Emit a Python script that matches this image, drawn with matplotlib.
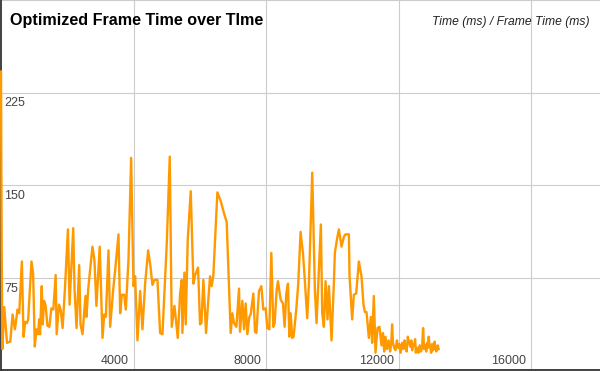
import matplotlib
matplotlib.use('Agg')
import matplotlib.pyplot as plt
from matplotlib.transforms import offset_copy

plt.rcParams['font.family'] = ['Liberation Sans', 'DejaVu Sans']

# elapsed time (ms) and frame time (ms)
time_ms = [0, 20, 40, 100, 180, 280, 350, 420, 500, 550, 630, 680, 730, 780, 820,
           920, 970, 1020, 1070, 1120, 1150, 1180, 1230, 1260, 1300, 1350, 1400, 1460,
           1520, 1580, 1650, 1680, 1750, 1800, 1860, 1930, 2020, 2070, 2180, 2220, 2280,
           2360, 2400, 2460, 2550, 2580, 2630, 2700, 2760, 2820, 2880, 2980,
           3064, 3114, 3165, 3245, 3295, 3386, 3446, 3546, 3597, 3647, 3717, 3767, 3848,
           3928, 3999, 4049, 4119, 4200, 4270, 4350, 4441, 4511, 4571, 4632, 4722, 4803,
           4873, 5004, 5094, 5154, 5235, 5275, 5335, 5406, 5456, 5476, 5536, 5576, 5637,
           5727, 5808, 5858,
           5948, 6008, 6049, 6109, 6189, 6250, 6310, 6360, 6410, 6531, 6632, 6732, 6812,
           6933, 6983, 7034, 7104, 7184, 7214, 7285, 7335, 7385, 7436, 7496, 7536, 7616,
           7667, 7707, 7787, 7858, 7918, 7988, 8039, 8099, 8159, 8219, 8260, 8320, 8360,
           8441, 8511, 8561, 8611, 8662, 8702, 8742,
           8791, 8831, 8912, 8972, 9042, 9113, 9163, 9243, 9294, 9394, 9474, 9525, 9565,
           9655, 9696, 9746, 9796, 9856, 9897, 9977, 10047, 10077, 10148, 10198, 10278,
           10349, 10399, 10500, 10520, 10600, 10650, 10721, 10801, 10881, 10942, 10982,
           11032,
           11103, 11163, 11203, 11253, 11304, 11364, 11424, 11484, 11530, 11565, 11605,
           11650, 11700, 11745, 11780, 11805, 11830, 11870, 11905, 11950, 11985, 12020,
           12060, 12107, 12150, 12180, 12207, 12245, 12280, 12310, 12357, 12385, 12410,
           12440, 12470, 12500, 12520, 12560, 12600, 12640, 12675, 12710, 12740, 12770,
           12810, 12835, 12860, 12885, 12910, 12935, 12960, 12985, 13010, 13035, 13060,
           13090, 13110, 13140, 13160, 13185, 13210]
frame_ms = [242, 103, 17, 51, 22, 23, 45, 33, 49, 46, 88, 27, 39, 38, 41,
            88, 78, 19, 33, 29, 41, 29, 68, 37, 56, 52, 36, 35,
            50, 49, 77, 29, 53, 49, 34, 66, 114, 53, 115, 65, 34,
            85, 37, 29, 60, 43, 65, 84, 100, 89, 52, 100,
            26, 45, 43, 97, 35, 65, 81, 110, 46, 61, 61, 49, 89,
            172, 68, 76, 24, 64, 33, 70, 97, 84, 69, 73, 73, 30,
            29, 103, 173, 35, 52, 42, 26, 62, 73, 30, 79, 37, 106,
            145, 70, 77,
            83, 37, 38, 73, 30, 54, 76, 68, 77, 144, 137, 127, 120,
            30, 46, 38, 35, 66, 31, 56, 33, 54, 29, 43, 45, 62,
            31, 30, 64, 68, 49, 50, 34, 33, 95, 35, 38, 65, 72,
            57, 54, 35, 62, 70, 27, 46,
            26, 27, 49, 70, 112, 95, 76, 42, 70, 160, 65, 38, 62,
            118, 46, 35, 72, 41, 68, 24, 70, 95, 107, 114, 100,
            108, 110, 110, 76, 41, 61, 62, 88, 76, 53, 47,
            47,
            26, 43, 22, 60, 14, 34, 35, 20, 30, 15, 27,
            17, 24, 15, 22, 37, 22, 18, 16, 24, 18, 21,
            14, 22, 17, 24, 19, 15, 27, 23, 19, 24, 16,
            21, 20, 25, 14, 18, 14, 20, 15, 18, 34, 17,
            20, 15, 22, 18, 27, 20, 18, 14, 21, 16, 19,
            23, 17, 15, 19, 20, 17]

y_ticks = [75, 150, 225, 300]
x_ticks = [4000, 8000, 12000, 16000]

W, H = 600, 371
fig = plt.figure(figsize=(W / 100, H / 100), dpi=100)
ax = fig.add_axes([1 / W, 1 / H, 1 - 1 / W, 370 / H])
ax.set_xlim(0, 18080)
ax.set_ylim(0, 300)

ax.plot(time_ms, frame_ms, color='#ff9900', lw=1.7, solid_joinstyle='round',
        zorder=5, clip_on=False)

ax.set_xticks(x_ticks)
ax.set_yticks(y_ticks)
ax.grid(True, color='#cccccc', lw=0.8)
ax.tick_params(length=0, labelleft=False, labelbottom=False)
for s in ['top', 'right']:
    ax.spines[s].set_visible(False)
for s in ['left', 'bottom']:
    ax.spines[s].set_color('#333333')
    ax.spines[s].set_linewidth(1.3)
    ax.spines[s].set_zorder(4)

ytr = offset_copy(ax.get_yaxis_transform(), fig=fig, x=3, y=-5, units='dots')
for v in y_ticks[:-1]:
    ax.text(0, v, str(v), transform=ytr, ha='left', va='top',
            fontsize=9, color='#444444')
xtr = offset_copy(ax.get_xaxis_transform(), fig=fig, x=-5, y=6, units='dots')
for v in x_ticks:
    ax.text(v, 0, str(v), transform=xtr, ha='right', va='baseline',
            fontsize=9, color='#444444')

fig.text(10 / W, 1 - 25 / H, 'Optimized Frame Time over TIme', ha='left',
         va='baseline', fontsize=11.6, fontweight='bold', color='#000000')
fig.text(590 / W, 1 - 25 / H, 'Time (ms) / Frame Time (ms)', ha='right',
         va='baseline', fontsize=8.7, style='italic', color='#222222')

fig.savefig('out.png', dpi=100)
